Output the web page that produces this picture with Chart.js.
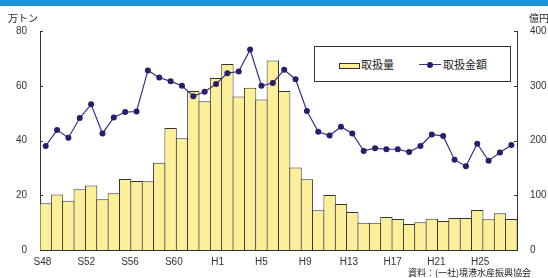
<!DOCTYPE html>
<html>
<head>
<meta charset="utf-8">
<script src="https://cdn.jsdelivr.net/npm/chart.js@4/dist/chart.umd.min.js"></script>
<style>
  body { margin: 0; background: #fff; }
  #wrap { position: relative; width: 548px; height: 278px; overflow: hidden; font-family: "Liberation Sans", "Noto Sans CJK JP", sans-serif; color: #222; }
  #topbar { position: absolute; left: 0; top: 0; width: 548px; height: 6px; background: #1a96d4; }
  canvas { position: absolute; left: 0; top: 0; }
  .lbl { position: absolute; white-space: nowrap; font-family: "Noto Sans CJK JP", sans-serif; font-size: 10px; line-height: 10px; color: #222; }
  #legend { position: absolute; left: 314px; top: 46px; width: 195px; height: 34px; border: 1px solid #333; background: #fff; font-family: "Noto Sans CJK JP", sans-serif; font-size: 11px; }
  .sw { position: absolute; left: 24px; top: 16px; width: 19px; height: 4px; background: #fbef9a; border: 1px solid #333; }
  .t1 { position: absolute; left: 46px; top: 9px; }
  .ln { position: absolute; left: 104px; top: 17px; width: 22px; height: 1px; background: #3d2e86; }
  .dot { position: absolute; left: 112px; top: 15px; width: 6px; height: 6px; border-radius: 50%; background: #2c1c6e; }
  .t2 { position: absolute; left: 128px; top: 9px; }
</style>
</head>
<body>
<div id="wrap">
  <div id="topbar"></div>
  <canvas id="myChart" width="548" height="278"></canvas>
  <div class="lbl" style="left:8px;top:13px;">万トン</div>
  <div class="lbl" style="left:529px;top:13px;">億円</div>
  <div class="lbl" style="left:408px;top:268px;font-size:9px;">資料：(一社)境港水産振興協会</div>
  <div id="legend">
    <div class="sw"></div><div class="t1">取扱量</div>
    <div class="ln"></div><div class="dot"></div><div class="t2">取扱金額</div>
  </div>
</div>
<script>
const years = [1973,1974,1975,1976,1977,1978,1979,1980,1981,1982,1983,1984,1985,1986,1987,1988,
  1989,1990,1991,1992,1993,1994,1995,1996,1997,1998,1999,2000,2001,2002,2003,2004,2005,2006,2007,
  2008,2009,2010,2011,2012,2013,2014];
// 取扱量 (万トン)
const volume = [17.1,20.3,18.0,22.2,23.6,18.5,20.7,25.9,25.2,25.1,31.9,44.6,40.8,58.1,54.3,62.8,
  67.9,56.1,59.3,55.0,69.2,58.1,30.1,25.8,14.5,20.1,16.8,13.9,10.0,10.0,12.1,11.3,9.5,10.1,11.4,
  10.6,11.7,11.7,14.6,11.2,13.4,11.3];
// 取扱金額 (億円)
const amount = [190,219,205,241,266,213,242,252,253,328,315,308,300,281,289,303,
  323,326,366,300,305,329,312,254,216,209,225,213,181,186,184,184,179,190,211,
  208,165,153,194,163,178,192];
const tickYears = [1973,1977,1981,1985,1989,1993,1997,2001,2005,2009,2013];
const tickLabels = ["S48","S52","S56","S60","H1","H5","H9","H13","H17","H21","H25"];

const ctx = document.getElementById("myChart");

const innerTicks = {
  id: "innerTicks",
  afterDraw(chart) {
    const c = chart.ctx;
    const a = chart.chartArea;
    c.save();
    c.strokeStyle = "#333";
    c.lineWidth = 1;
    c.beginPath();
    chart.scales.y.ticks.forEach((t) => {
      const py = Math.round(chart.scales.y.getPixelForValue(t.value)) + 0.5;
      c.moveTo(a.left, py);
      c.lineTo(a.left + 3, py);
    });
    chart.scales.y2.ticks.forEach((t) => {
      const py = Math.round(chart.scales.y2.getPixelForValue(t.value)) + 0.5;
      c.moveTo(a.right, py);
      c.lineTo(a.right - 3, py);
    });
    c.stroke();
    c.restore();
  },
};

Chart.defaults.font.family = '"Liberation Sans", sans-serif';
Chart.defaults.font.size = 10;
Chart.defaults.color = "#333";

new Chart(ctx, {
  type: "bar",
  data: {
    labels: years,
    datasets: [
      {
        type: "line",
        label: "取扱金額",
        data: amount,
        yAxisID: "y2",
        borderColor: "#3d2e86",
        borderWidth: 1.2,
        pointRadius: 3,
        pointBackgroundColor: "#2c1c6e",
        pointBorderColor: "#2c1c6e",
        pointBorderWidth: 0,
        tension: 0,
        order: 0,
      },
      {
        label: "取扱量",
        data: volume,
        yAxisID: "y",
        backgroundColor: "#fbef9a",
        borderColor: "#333",
        borderWidth: 1,
        borderSkipped: "bottom",
        barPercentage: 1.09,
        categoryPercentage: 1,
        order: 1,
      },
    ],
  },
  options: {
    responsive: false,
    animation: false,
    layout: { padding: { top: 31, left: 0, right: 0, bottom: 0 } },
    plugins: { legend: { display: false }, tooltip: { enabled: false } },
    scales: {
      x: {
        display: false,
        offset: true,
        grid: { display: false },
      },
      x2: {
        type: "linear",
        position: "bottom",
        offset: false,
        min: 1972.77,
        max: 2016.37,
        grid: { display: false, drawTicks: false, offset: false },
        border: { display: true, color: "#333" },
        afterBuildTicks: (s) => { s.ticks = tickYears.map((v) => ({ value: v })); },
        afterFit: (s) => { s.height = 28; },
        ticks: {
          autoSkip: false,
          maxRotation: 0,
          padding: 6,
          callback: (v, i) => tickLabels[i],
        },
      },
      y: {
        position: "left",
        min: 0,
        max: 80,
        grid: { display: false, drawTicks: false },
        border: { display: true, color: "#333" },
        afterFit: (s) => { s.width = 40; },
        ticks: { stepSize: 20, padding: 13 },
      },
      y2: {
        position: "right",
        min: 0,
        max: 400,
        grid: { display: false, drawTicks: false },
        border: { display: true, color: "#333" },
        afterFit: (s) => { s.width = 31; },
        ticks: { stepSize: 100, padding: 13 },
      },
    },
  },
  plugins: [innerTicks],
});
</script>
</body>
</html>
